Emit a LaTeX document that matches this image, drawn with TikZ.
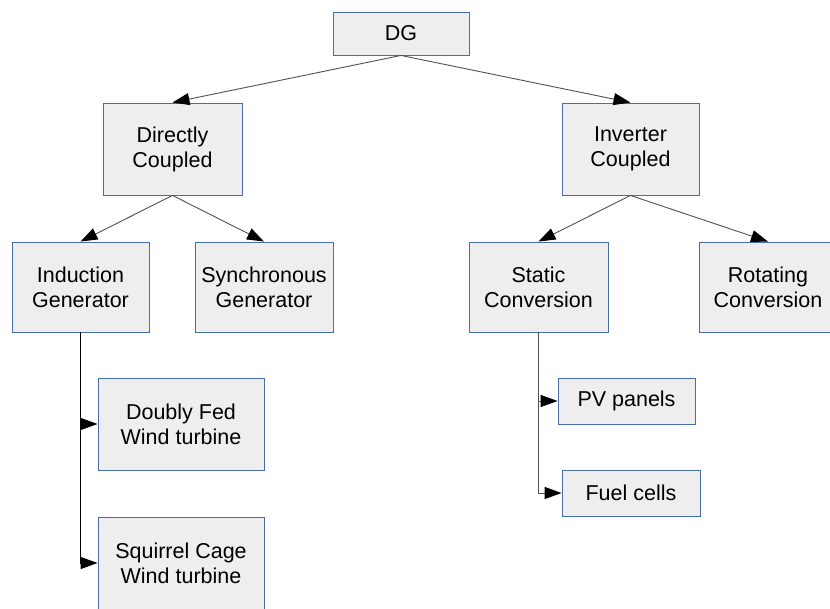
\documentclass[tikz,border=0pt]{standalone}
\usepackage{fontspec}
\setmainfont{Liberation Sans}
\usetikzlibrary{arrows.meta}
\definecolor{boxfill}{HTML}{EEEEEE}
\definecolor{boxline}{RGB}{72,110,168}
\definecolor{linkgray}{HTML}{505050}
\tikzset{
  box/.style={draw=boxline, fill=boxfill, line width=0.9pt, inner sep=0pt,
    align=center, font=\fontsize{21.5}{25}\selectfont},
  tip/.style={-{Triangle[length=17pt,width=12pt,color=black]}},
  diag/.style={tip, draw=linkgray, line width=0.9pt},
  vert/.style={tip, draw=black, line width=0.9pt},
}
\begin{document}
\begin{tikzpicture}[x=1pt,y=-1pt]
\useasboundingbox (0,0) rectangle (830,608);
% top level
\node[box, minimum width=136pt, minimum height=43pt] (dg) at (401,33.5) {DG};
% second level
\node[box, minimum width=139pt, minimum height=92pt] (dc) at (172.5,149) {Directly\\Coupled};
\node[box, minimum width=137pt, minimum height=92pt] (ic) at (630.5,149) {Inverter\\Coupled};
% third level
\node[box, minimum width=137pt, minimum height=90pt] (ig) at (80.5,287) {Induction\\Generator};
\node[box, minimum width=138pt, minimum height=90pt] (sg) at (264,287) {Synchronous\\Generator};
\node[box, minimum width=139pt, minimum height=90pt] (sc) at (538.5,287) {Static\\Conversion};
\node[box, minimum width=138pt, minimum height=90pt] (rc) at (768,287) {Rotating\\Conversion};
% leaves
\node[box, minimum width=166pt, minimum height=92pt] (df) at (181,424) {Doubly Fed\\Wind turbine};
\node[box, minimum width=166pt, minimum height=92pt] (sq) at (181,563) {Squirrel Cage\\Wind turbine};
\node[box, minimum width=137pt, minimum height=46pt] (pv) at (626.5,401) {PV panels};
\node[box, minimum width=138pt, minimum height=46pt] (fc) at (631,493) {Fuel cells};
% connectors
\draw[diag] (dg.south) -- (dc.north);
\draw[diag] (dg.south) -- (ic.north);
\draw[diag] (dc.south) -- (ig.north);
\draw[diag] (dc.south) -- (sg.north);
\draw[diag] (ic.south) -- (sc.north);
\draw[diag] (ic.south) -- (rc.north);
\draw[vert] (ig.south) |- (df.west);
\draw[vert] (ig.south) |- (sq.west);
\draw[vert, draw=linkgray] (sc.south) |- (pv.west);
\draw[vert, draw=linkgray] (sc.south) |- (fc.west);
\end{tikzpicture}
\end{document}
